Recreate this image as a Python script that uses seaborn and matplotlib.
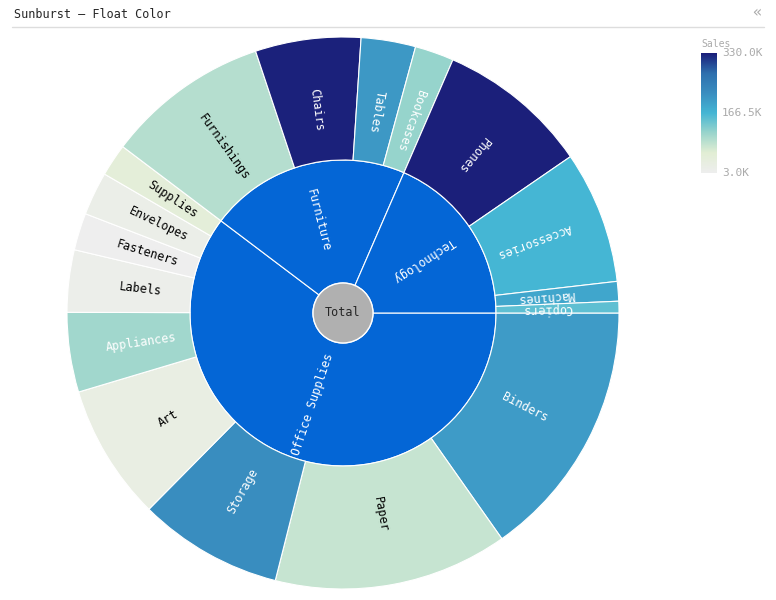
import numpy as np
import matplotlib
matplotlib.use("Agg")
import matplotlib.pyplot as plt
from matplotlib.patches import Wedge
import seaborn as sns

sns.set_style("white")
plt.rcParams["font.family"] = ["DejaVu Sans Mono"]

categories = ["Office Supplies", "Furniture", "Technology"]
subcats = [
    ["Binders", "Paper", "Storage", "Art", "Appliances", "Labels", "Fasteners", "Envelopes", "Supplies"],
    ["Furnishings", "Chairs", "Tables", "Bookcases"],
    ["Phones", "Accessories", "Machines", "Copiers"],
]
counts = [
    [1523, 1370, 846, 796, 466, 364, 217, 254, 190],
    [957, 617, 319, 228],
    [889, 775, 115, 68],
]
sales = [
    [203.4, 78.5, 223.8, 27.1, 107.5, 12.5, 3.0, 16.5, 47.0],
    [91.7, 328.4, 207.0, 114.9],
    [330.0, 167.4, 189.2, 150.0],
]

cmap = sns.blend_palette(["#eeeeee", "#e2eed4", "#9ad5cc", "#45b6d4",
                          "#3a8ec0", "#2e70ae", "#1b1f7a"], as_cmap=True)
vmin, vmax = 3.0, 330.0
norm = plt.Normalize(vmin, vmax)

fig = plt.figure(figsize=(7.76, 6.0), dpi=100)
ax = fig.add_axes([63 / 776, 7 / 600, 560 / 776, 560 / 600])

R0, R1, R2 = 30, 153, 276
total = sum(sum(c) for c in counts)


def radial_text(theta, r, s, color):
    t = np.deg2rad(theta)
    rot = theta
    if rot < -90:
        rot += 180
    elif rot > 90:
        rot -= 180
    ax.text(r * np.cos(t), r * np.sin(t), s, rotation=rot, rotation_mode="anchor",
            ha="center", va="center", fontsize=8.5, color=color, zorder=4)


start = 0.0
for cat, subs, cnts, sls in zip(categories, subcats, counts, sales):
    span = sum(cnts) / total * 360
    ax.add_patch(Wedge((0, 0), R1, start - span, start, width=R1 - R0,
                       facecolor="#0466d6", edgecolor="white", lw=0.8))
    radial_text(start - span / 2, (R0 + R1) / 2 + 5, cat, "white")
    a = start
    for name, c, sv in zip(subs, cnts, sls):
        sp = c / total * 360
        ax.add_patch(Wedge((0, 0), R2, a - sp, a, width=R2 - R1,
                           facecolor=cmap(norm(sv)), edgecolor="white", lw=0.8))
        if sp > 2:
            tc = "white" if sv > 100 else "black"
            radial_text(a - sp / 2, (R1 + R2) / 2 - 10, name, tc)
        a -= sp
    start -= span

ax.add_patch(plt.Circle((0, 0), R0, facecolor="#b0b0b0", edgecolor="white", lw=1, zorder=5))
ax.text(0, 0, "Total", ha="center", va="center", fontsize=8.5, zorder=6)

ax.set_xlim(-280, 280)
ax.set_ylim(-280, 280)
ax.set_aspect("equal")
ax.axis("off")

fig.text(14 / 776, 1 - 14 / 600, "Sunburst \u2013 Float Color", fontsize=8.5, va="center")
fig.add_artist(plt.Line2D([12 / 776, 764 / 776], [1 - 27 / 600] * 2, color="#dddddd", lw=1))
fig.text(757 / 776, 1 - 13 / 600, "\u00ab", fontsize=11, color="#aaaaaa", ha="center", va="center")

cax = fig.add_axes([701 / 776, 1 - 173 / 600, 16 / 776, 120 / 600])
grad = np.linspace(vmax, vmin, 200).reshape(-1, 1)
cax.imshow(grad, aspect="auto", cmap=cmap, norm=norm, extent=[0, 1, vmin, vmax])
cax.set_xticks([])
cax.set_yticks([])
for s in cax.spines.values():
    s.set_visible(False)
for v, lab in [(vmax, "330.0K"), (166.5, "166.5K"), (vmin, "3.0K")]:
    cax.text(1.3, v, lab, fontsize=8, color="#aaaaaa", va="center", transform=cax.get_yaxis_transform())
fig.text(701 / 776, 1 - 44 / 600, "Sales", fontsize=7, color="#aaaaaa", va="center")

fig.savefig("out.png", dpi=100)
